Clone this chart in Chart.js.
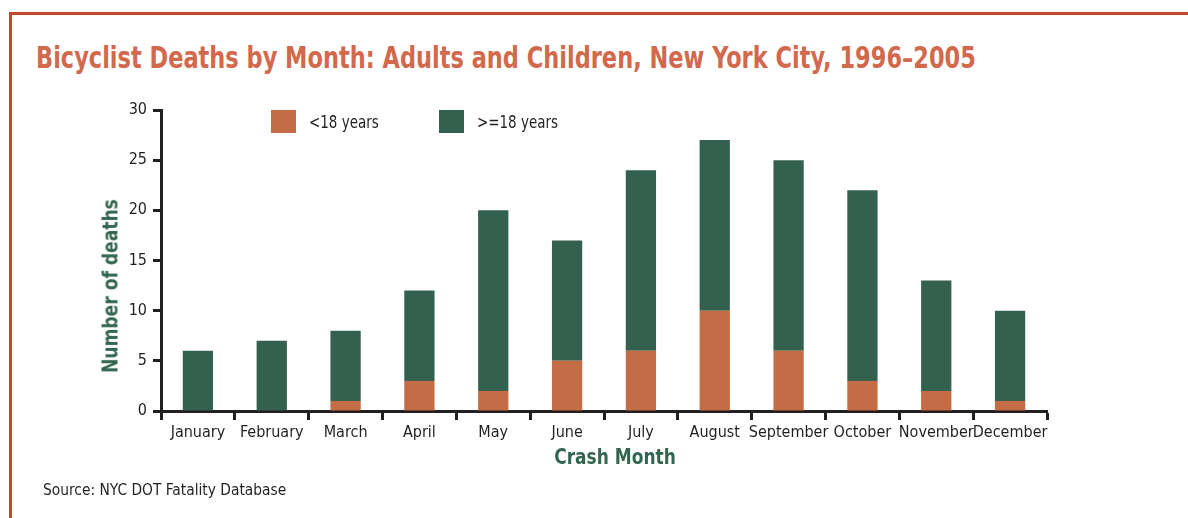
<!DOCTYPE html>
<html>
<head>
<meta charset="utf-8">
<script src="https://cdn.jsdelivr.net/npm/chart.js@4"></script>
<style>
  body { margin: 0; background: #fff; }
  #wrap { position: relative; width: 1188px; height: 518px; overflow: hidden;
          font-family: 'DejaVu Sans Condensed', 'Liberation Sans', sans-serif; }
  #frame { position: absolute; left: 9px; top: 12px; right: -5px; bottom: -5px;
           border-top: 3px solid #c0482b; border-left: 3px solid #c0482b; }
  #title { position: absolute; left: 36px; top: 40px; font-size: 30px; font-weight: bold;
           color: #d2694c; white-space: nowrap; transform-origin: 0 0; transform: scaleX(0.833); }
  #source { position: absolute; left: 43px; top: 480px; font-size: 16px; color: #231f20;
            white-space: nowrap; transform-origin: 0 0; transform: scaleX(0.96); }
  #ytitle { position: absolute; left: 110px; top: 286px; font-size: 22px; font-weight: bold;
            color: #336650; white-space: nowrap;
            transform: translate(-50%, -50%) rotate(-90deg) scaleX(0.865); }
  #xtitle { position: absolute; left: 615px; top: 456px; font-size: 22px; font-weight: bold;
            color: #336650; white-space: nowrap; transform: translate(-50%, -50%) scaleX(0.86); }
  .leg { position: absolute; top: 110px; height: 23px; font-size: 17px; color: #231f20;
         white-space: nowrap; }
  .leg span.box { position: absolute; left: 0; top: 0; width: 25px; height: 23px; }
  .leg span.txt { position: absolute; left: 38px; top: 2px; transform-origin: 0 0; transform: scaleX(0.88); }
  canvas { position: absolute; left: 0; top: 0; }
</style>
</head>
<body>
<div id="wrap">
  <div id="frame"></div>
  <div id="title">Bicyclist Deaths by Month: Adults and Children, New York City, 1996–2005</div>
  <canvas id="chart" width="1188" height="518"></canvas>
  <div id="ytitle">Number of deaths</div>
  <div id="xtitle">Crash Month</div>
  <div id="source">Source: NYC DOT Fatality Database</div>
  <div id="legend"></div>
</div>
<script>
// dados
const months = ['January', 'February', 'March', 'April', 'May', 'June', 'July',
                'August', 'September', 'October', 'November', 'December'];
const seriesNames = ['<18 years', '>=18 years'];
const under18 = [0, 0, 1, 3, 2, 5, 6, 10, 6, 3, 2, 1];
const adults = [6, 7, 7, 9, 18, 12, 18, 17, 19, 19, 11, 9];
const yTicks = [0, 5, 10, 15, 20, 25, 30];

const colors = ['#c46c45', '#34614f'];
const inkColor = '#231f20';

document.addEventListener('DOMContentLoaded', function() {
    // legenda em HTML
    const legend = document.getElementById('legend');
    const legendX = [271, 439];
    seriesNames.forEach(function(name, i) {
        const item = document.createElement('div');
        item.className = 'leg';
        item.style.left = legendX[i] + 'px';
        const box = document.createElement('span');
        box.className = 'box';
        box.style.background = colors[i];
        const txt = document.createElement('span');
        txt.className = 'txt';
        txt.textContent = name;
        item.appendChild(box);
        item.appendChild(txt);
        legend.appendChild(item);
    });

    const tickFont = { family: "'DejaVu Sans Condensed', 'Liberation Sans', sans-serif", size: 16 };

    new Chart(document.getElementById('chart').getContext('2d'), {
        type: 'bar',
        data: {
            labels: months,
            datasets: [
                { label: seriesNames[0], data: under18, backgroundColor: colors[0] },
                { label: seriesNames[1], data: adults, backgroundColor: colors[1] }
            ]
        },
        options: {
            responsive: false,
            animation: false,
            barPercentage: 0.41,
            categoryPercentage: 1,
            layout: { padding: { left: 0, top: 110, right: 141, bottom: 0 } },
            plugins: { legend: { display: false }, tooltip: { enabled: false } },
            scales: {
                x: {
                    stacked: true,
                    afterFit: function(scale) { scale.height = 107; },
                    grid: { offset: true, drawOnChartArea: false, drawTicks: true,
                            tickLength: 9, tickWidth: 3, color: inkColor },
                    border: { display: true, color: inkColor, width: 3 },
                    ticks: { color: inkColor, font: tickFont, padding: 3, maxRotation: 0, autoSkip: false }
                },
                y: {
                    stacked: true,
                    min: 0,
                    max: 30,
                    afterFit: function(scale) { scale.width = 161; },
                    afterBuildTicks: function(scale) {
                        scale.ticks = yTicks.map(function(v) { return { value: v }; });
                    },
                    grid: { drawOnChartArea: false, drawTicks: true,
                            tickLength: 8, tickWidth: 3, color: inkColor },
                    border: { display: true, color: inkColor, width: 3 },
                    ticks: { color: inkColor, font: tickFont, padding: 6 }
                }
            }
        }
    });
});
</script>
</body>
</html>
